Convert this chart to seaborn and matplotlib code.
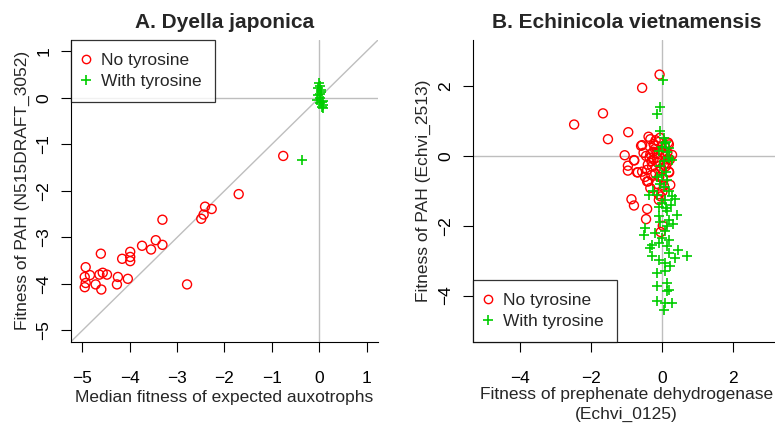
import matplotlib
matplotlib.use("Agg")
import matplotlib.pyplot as plt
import seaborn as sns
from matplotlib.lines import Line2D

# Panel A: Dyella japonica
a_no_x = [-0.76, -1.70, -2.41, -2.27, -2.44, -2.49, -3.31, -3.45, -3.31, -3.74,
          -3.55, -3.99, -3.99, -3.99, -4.16, -4.61, -4.93, -4.95, -4.84, -4.93,
          -4.95, -4.72, -4.64, -4.57, -4.48, -4.60, -4.25, -4.27, -4.04, -2.79]
a_no_y = [-1.25, -2.07, -2.34, -2.39, -2.51, -2.60, -2.62, -3.06, -3.16, -3.18,
          -3.26, -3.31, -3.42, -3.51, -3.46, -3.35, -3.64, -3.85, -3.81, -3.98,
          -4.07, -4.01, -3.80, -3.76, -3.80, -4.12, -3.85, -4.01, -3.89, -4.01]
a_with_x = [-0.36, 0.00, 0.01, -0.02, 0.03, -0.02, 0.01, 0.05, 0.08, 0.07,
            0.01, -0.04, 0.09, 0.04, 0.02, 0.06]
a_with_y = [-1.34, 0.32, 0.26, 0.20, 0.13, 0.06, -0.01, -0.09, -0.16, -0.23,
            -0.12, -0.05, -0.06, 0.17, 0.09, -0.19]

# Panel B: Echinicola vietnamensis
b_no_x = [-0.07, -0.56, -1.66, -2.47, -1.52, -0.95, -1.05, -0.96, -0.96, -0.79,
          -0.59, -0.68, -0.86, -0.79, -0.42, -0.45, -0.04, 0.02, 0.17, 0.23,
          0.20, 0.14, 0.28, -0.39, -0.33, -0.09, 0.01, -0.04, -0.38, -0.33,
          -0.56, -0.24, -0.10, 0.19, -0.52, -0.78, -0.70, -0.56, -0.42, -0.28,
          -0.24, -0.14, -0.05, 0.09, -0.30, -0.19, -0.05, -0.42, 0.19, -0.10,
          -0.20, -0.15, 0.00, 0.05, -0.35, -0.12, 0.12, -0.45, -0.25, -0.02,
          0.08, -0.30, -0.18, 0.15, -0.08, -0.40, 0.02, -0.22, 0.10, -0.15,
          -0.33, 0.05, -0.06, 0.22, -0.48]
b_no_y = [2.33, 1.95, 1.22, 0.90, 0.48, 0.68, 0.02, -0.28, -0.42, -0.12,
          0.29, -0.47, -1.24, -1.42, -1.52, -1.81, -2.18, -2.00, 0.38, -0.83,
          -0.47, -0.21, 0.03, -0.73, -0.92, -1.26, -1.02, -1.16, 0.55, 0.48,
          0.31, 0.34, 0.40, 0.33, 0.09, -0.13, -0.47, -0.45, -0.40, -0.30,
          -0.10, 0.08, 0.17, 0.03, -0.15, -0.50, -0.40, -0.73, -0.45, -1.10,
          0.20, -0.05, 0.10, -0.25, -0.05, -0.20, -0.10, 0.00, 0.12, -0.35,
          0.25, -0.55, 0.45, 0.10, -0.60, -0.25, -0.65, 0.30, -0.30, -0.80,
          0.05, -0.85, 0.52, -0.10, -0.60]
b_with_x = [0.03, -0.05, -0.14, -0.05, 0.09, 0.19, 0.28, 0.28, 0.37, 0.09,
            -0.14, -0.37, 0.42, 0.14, 0.19, -0.09, -0.47, -0.52, -0.19, 0.09,
            -0.28, -0.09, -0.33, 0.14, 0.19, 0.45, 0.37, 0.70, -0.28, -0.09,
            0.09, 0.23, -0.14, 0.09, 0.14, -0.14, 0.14, -0.14, 0.09, 0.28,
            0.05, 0.19, 0.05, 0.10, 0.00, -0.10, 0.15, 0.20, 0.05, -0.05,
            0.10, 0.00, -0.15, 0.15, -0.05, 0.05, -0.25, 0.20, 0.00, -0.10,
            0.10, 0.25, -0.05, 0.30, 0.15, 0.00, 0.20]
b_with_y = [2.17, 1.39, 1.20, 0.71, 0.36, 0.22, -0.11, -1.16, -1.24, -1.26,
            -1.11, -1.11, -1.69, -1.59, -1.83, -1.73, -2.07, -2.26, -2.21, -2.16,
            -2.54, -2.50, -2.64, -2.59, -2.78, -2.69, -2.92, -2.88, -2.88, -2.97,
            -3.07, -3.16, -3.35, -3.30, -3.64, -3.73, -3.88, -4.16, -4.21, -4.21,
            -4.40, -3.83, 0.50, 0.40, 0.25, 0.15, 0.10, -0.05, -0.15, -0.30,
            -0.45, -0.55, -0.60, -0.70, -0.80, -0.90, -1.00, -1.00, -1.35, -1.45,
            -1.50, -1.40, -1.90, -1.95, -2.00, -2.35, -2.40]

labels = ["No tyrosine", "With tyrosine"]

sns.set_theme(style="ticks")
plt.rcParams["font.family"] = ["Liberation Sans", "DejaVu Sans"]
plt.rcParams["axes.linewidth"] = 0.8

fig = plt.figure(figsize=(7.75, 4.26), dpi=100)
axA = fig.add_axes([0.0916, 0.198, 0.3961, 0.708])
axB = fig.add_axes([0.6099, 0.198, 0.3969, 0.708])

grey = "#bebebe"
red = "#ff0000"
green = "#00cd00"
fs = 12.5


def draw_points(ax, nx, ny, wx, wy):
    sns.scatterplot(x=nx, y=ny, ax=ax, marker="o", s=42, facecolors="none",
                    edgecolors=red, linewidths=1.0, zorder=3)
    sns.scatterplot(x=wx, y=wy, ax=ax, marker="+", s=60, color=green,
                    linewidths=1.2, zorder=4)


def add_legend(ax, loc):
    handles = [
        Line2D([], [], marker="o", ls="", mfc="none", mec=red, ms=6, mew=1.0),
        Line2D([], [], marker="+", ls="", color=green, ms=7, mew=1.2),
    ]
    leg = ax.legend(handles, labels, loc=loc, frameon=True, fancybox=False,
                    edgecolor="black", borderaxespad=0, fontsize=fs,
                    handletextpad=0.75, handlelength=0.25, borderpad=0.75,
                    labelspacing=0.3)
    leg.get_frame().set_linewidth(0.9)
    leg.set_zorder(5)


# Panel A
axA.axhline(0, color=grey, lw=1, zorder=1)
axA.axvline(0, color=grey, lw=1, zorder=1)
axA.plot([-6, 2], [-6, 2], color=grey, lw=1, zorder=1)
draw_points(axA, a_no_x, a_no_y, a_with_x, a_with_y)
axA.set_xlim(-5.24, 1.24)
axA.set_ylim(-5.24, 1.24)
axA.set_xticks([-5, -4, -3, -2, -1, 0, 1])
axA.set_yticks([-5, -4, -3, -2, -1, 0, 1])
axA.set_title("A. Dyella japonica", fontsize=15, fontweight="bold", pad=9)
axA.set_xlabel("Median fitness of expected auxotrophs", fontsize=fs)
axA.set_ylabel("Fitness of PAH (N515DRAFT_3052)", fontsize=fs)
add_legend(axA, "upper left")

# Panel B
axB.axhline(0, color=grey, lw=1, zorder=1)
axB.axvline(0, color=grey, lw=1, zorder=1)
draw_points(axB, b_no_x, b_no_y, b_with_x, b_with_y)
axB.set_xlim(-5.32, 3.32)
axB.set_ylim(-5.32, 3.32)
axB.set_xticks([-4, -2, 0, 2])
axB.set_yticks([-4, -2, 0, 2])
axB.set_title("B. Echinicola vietnamensis", fontsize=15, fontweight="bold", pad=9)
axB.set_xlabel("Fitness of prephenate dehydrogenase\n(Echvi_0125)", fontsize=fs,
               linespacing=1.4)
axB.set_ylabel("Fitness of PAH (Echvi_2513)", fontsize=fs)
add_legend(axB, "lower left")

for ax in (axA, axB):
    sns.despine(ax=ax)
    ax.tick_params(axis="both", length=7, width=0.8, labelsize=fs,
                   color="black", labelcolor="black")
    ax.tick_params(axis="x", pad=14)
    ax.tick_params(axis="y", pad=7)
    for lab in ax.get_yticklabels():
        lab.set_rotation(90)
        lab.set_va("center")
    ax.xaxis.labelpad = 3
    ax.yaxis.labelpad = 5
    for sp in ax.spines.values():
        sp.set_color("black")

axB.xaxis.labelpad = 1

fig.savefig("out.png", dpi=100)
